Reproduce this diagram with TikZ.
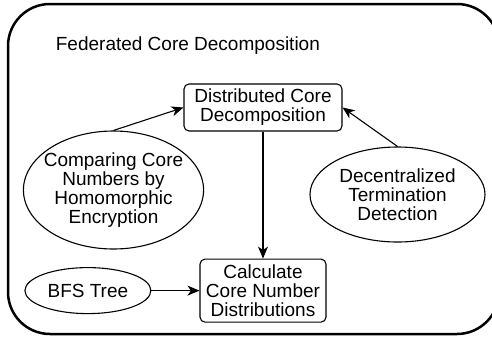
\documentclass[tikz,border=0pt]{standalone}
\usepackage{fontspec}
\setmainfont{Liberation Sans}
\usetikzlibrary{positioning, arrows.meta}
\usetikzlibrary{shapes}

\begin{document}
\begin{tikzpicture}[x=1pt,y=-1pt,>={Stealth[length=12pt,width=10pt,inset=3.5pt]},
    every node/.style={font=\fontsize{19}{19}\selectfont,align=center,line width=1.1pt},
    box/.style={shape=rectangle,draw,rounded corners=5pt},
    oval/.style={shape=ellipse,draw,inner sep=0pt},]
    \useasboundingbox (0,0) rectangle (492,338);
    % outer frame
    \draw[line width=2.5pt,rounded corners=42pt] (8,4) rectangle (499,334);
    \node[anchor=base west] (title) at (52,50) {Federated Core Decomposition};
    % create the nodes
    \node[box,minimum width=158pt,minimum height=47pt] (dist) at (263,107.5) {Distributed Core\\Decomposition};
    \node[box,minimum width=126pt,minimum height=63pt] (calc)[below=127pt of dist] {Calculate\\Core Number\\Distributions};
    \node[oval,minimum width=126pt,minimum height=46pt] (bfs)[left=48pt of calc] {BFS Tree};
    \node[oval,inner xsep=-6pt,minimum height=118pt] (comp) at (113.5,190) {Comparing Core\\Numbers by\\Homomorphic\\Encryption};
    \node[oval,minimum width=175pt,minimum height=95pt] (decen) at (397.5,194.5) {Decentralized\\Termination\\Detection};
    % connect them
    \draw[->,line width=1.1pt] (comp.north) -- (dist.west);
    \draw[->,line width=1.1pt] (decen.north) -- (dist.east);
    \draw[->,line width=1.1pt] (dist) -- (calc);
    \draw[->,line width=1.1pt] (bfs) -- (calc);
\end{tikzpicture}
\end{document}
